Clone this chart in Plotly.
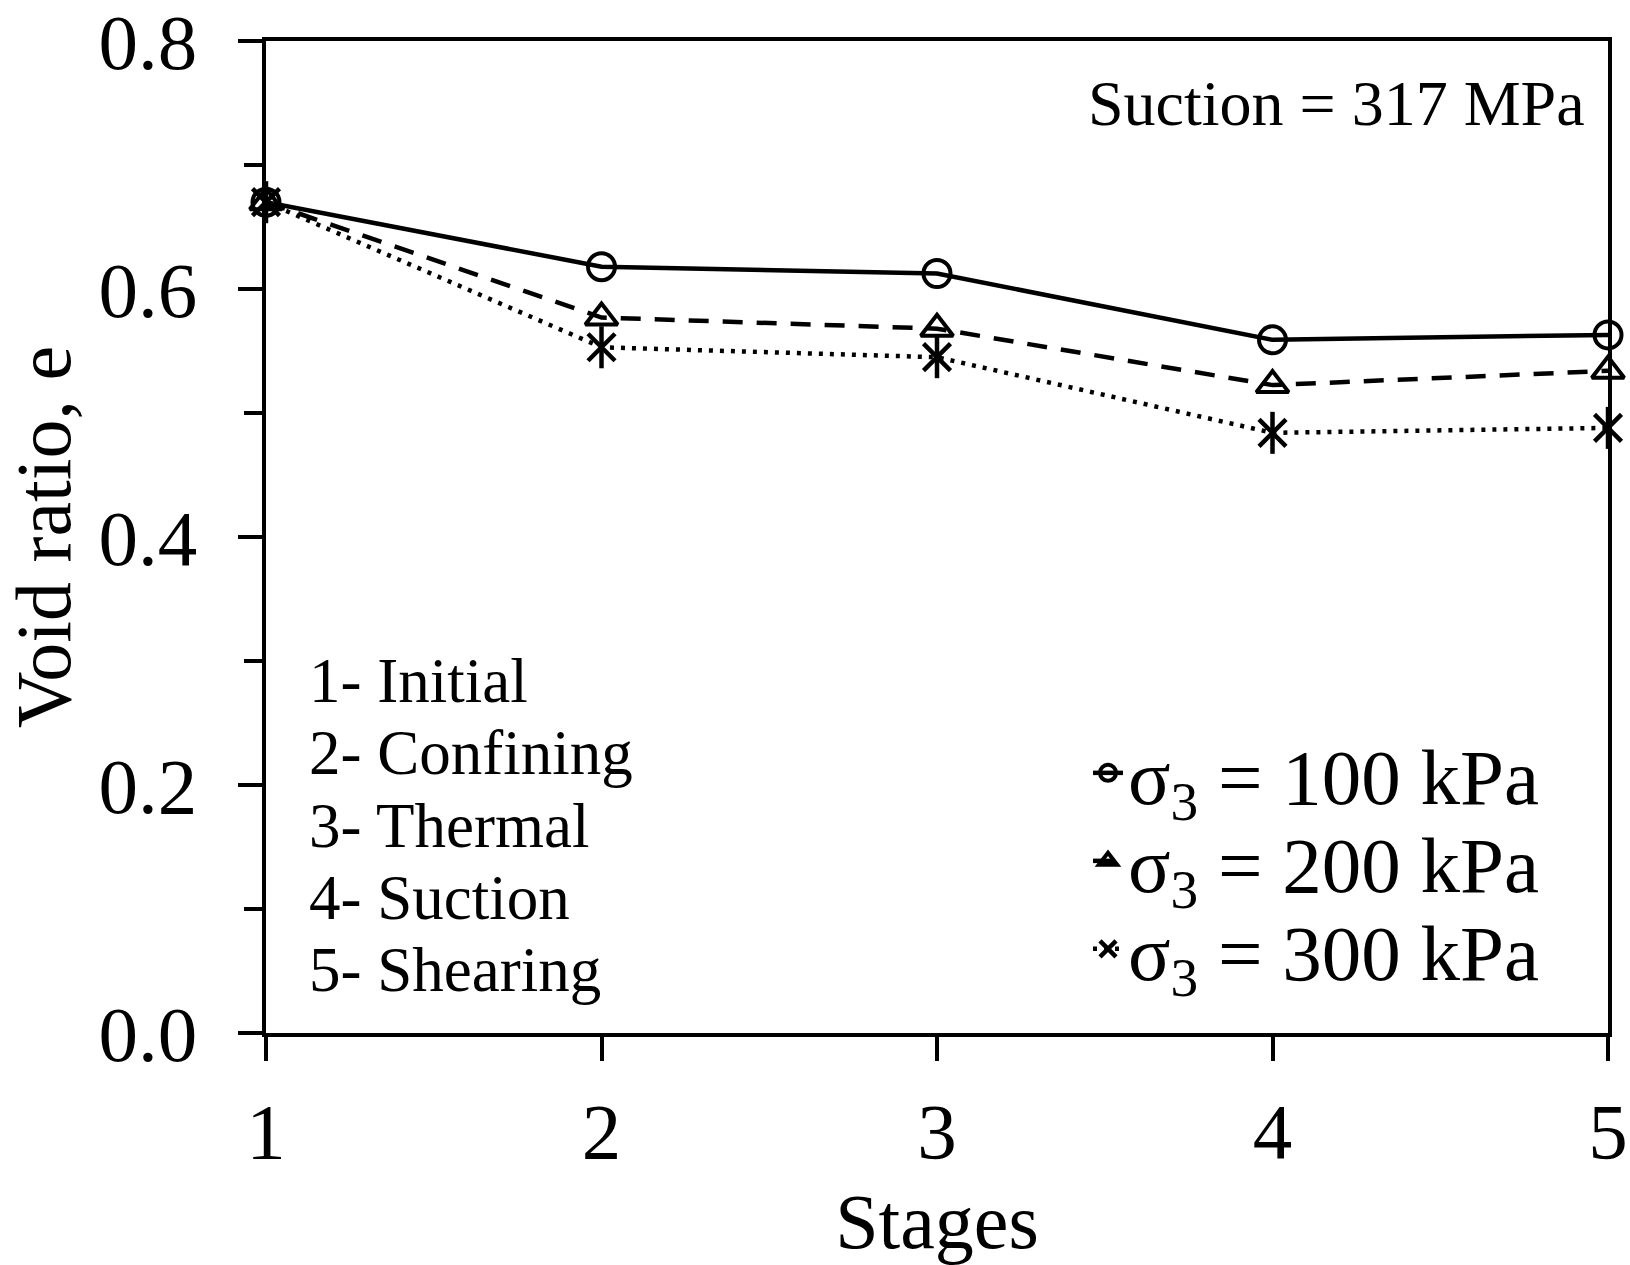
import plotly.graph_objects as go

stages = [1, 2, 3, 4, 5]
e_100 = [0.670, 0.618, 0.6125, 0.559, 0.563]
e_200 = [0.670, 0.577, 0.568, 0.5225, 0.534]
e_300 = [0.670, 0.553, 0.545, 0.484, 0.488]
stage_names = ["1- Initial", "2- Confining", "3- Thermal", "4- Suction", "5- Shearing"]
y_ticks = [0.0, 0.2, 0.4, 0.6, 0.8]

FONT = "Liberation Serif, Times New Roman, serif"

L, R, T, B = 266, 1608, 41, 1033
W, H = 1630, 1265


def px_x(p):
    return (p - L) / (R - L)


def px_y(p):
    return (B - p) / (B - T)


fig = go.Figure()
fig.add_trace(go.Scatter(
    x=stages, y=e_100, mode="lines+markers", name="σ<sub>3</sub> = 100 kPa",
    line=dict(color="black", width=4.5),
    marker=dict(symbol="circle-open", size=27, color="black", line=dict(width=4)),
    cliponaxis=False, legend="legend"))
fig.add_trace(go.Scatter(
    x=stages, y=e_200, mode="lines+markers", name="σ<sub>3</sub> = 200 kPa",
    line=dict(color="black", width=4.5, dash="20px,14px"),
    marker=dict(symbol="triangle-up-open", size=28, color="black", line=dict(width=4)),
    cliponaxis=False, legend="legend2"))
fig.add_trace(go.Scatter(
    x=stages, y=e_300, mode="lines+markers", name="σ<sub>3</sub> = 300 kPa",
    line=dict(color="black", width=4.5, dash="4px,7px"),
    marker=dict(symbol="x-thin-open", size=27, color="black", line=dict(width=4.5)),
    cliponaxis=False, legend="legend3"))
fig.add_trace(go.Scatter(
    x=stages, y=e_300, mode="markers", showlegend=False,
    marker=dict(symbol="line-ns-open", size=30, color="black", line=dict(width=4.5)),
    cliponaxis=False))

for i, name in enumerate(stage_names):
    fig.add_annotation(
        x=px_x(307), y=px_y(681 + i * 72.3), xref="paper", yref="paper",
        text=name, showarrow=False, xanchor="left", yanchor="middle",
        font=dict(family=FONT, size=63, color="black"))

fig.add_annotation(
    x=px_x(1587), y=px_y(103), xref="paper", yref="paper",
    text="Suction = 317 MPa", showarrow=False, xanchor="right", yanchor="middle",
    font=dict(family=FONT, size=64, color="black"))

leg_common = dict(xanchor="left", yanchor="middle", bgcolor="rgba(0,0,0,0)",
                  borderwidth=0, font=dict(family=FONT, size=79, color="black"))
lx = px_x(1088)
fig.update_layout(
    legend=dict(x=lx, y=px_y(773), **leg_common),
    legend2=dict(x=lx, y=px_y(861), **leg_common),
    legend3=dict(x=lx, y=px_y(949), **leg_common),
)

fig.update_layout(
    width=W, height=H,
    margin=dict(l=L, r=W - R, t=T, b=H - B, autoexpand=False),
    paper_bgcolor="white", plot_bgcolor="white",
    font=dict(family=FONT, color="black"),
    xaxis=dict(
        range=[1, 5], tickvals=stages, ticks="outside", ticklen=24, tickwidth=4,
        tickcolor="black", showline=True, linewidth=4, linecolor="black", mirror=True,
        showgrid=False, zeroline=False, tickfont=dict(family=FONT, size=79),
        ticklabelstandoff=2, ticklabeloverflow="allow",
        title=dict(text="Stages", font=dict(family=FONT, size=78), standoff=22),
    ),
    yaxis=dict(
        range=[0, 0.8], tickvals=y_ticks, tickformat=".1f", ticks="outside", ticklen=24,
        tickwidth=4, tickcolor="black", showline=True, linewidth=4, linecolor="black",
        mirror=True, showgrid=False, zeroline=False, tickfont=dict(family=FONT, size=79),
        ticklabelstandoff=25, ticklabeloverflow="allow",
        minor=dict(dtick=0.1, ticks="outside", ticklen=18, tickwidth=4, tickcolor="black",
                   showgrid=False),
        title=dict(text="Void ratio, e", font=dict(family=FONT, size=78), standoff=18),
    ),
)

fig.write_html("out.html")
